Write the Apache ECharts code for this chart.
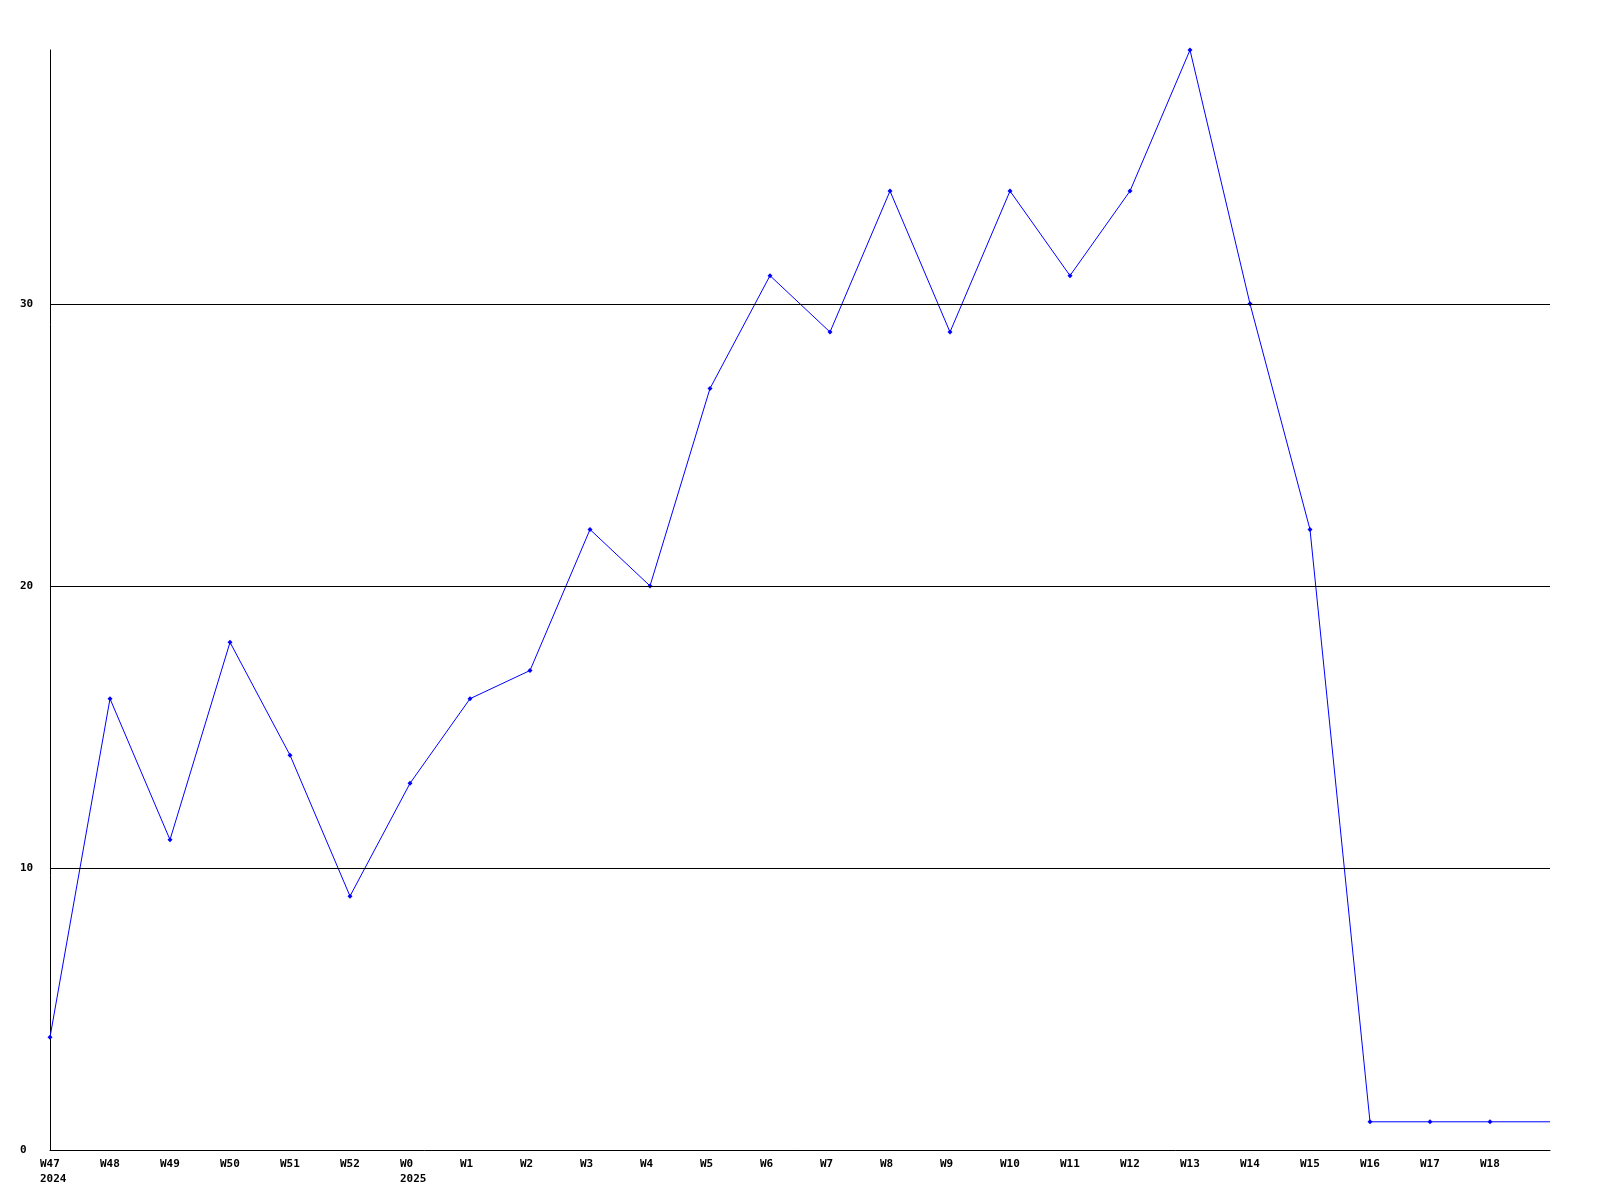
<!DOCTYPE html>
<html>
<head>
<meta charset="utf-8">
<script src="https://cdn.jsdelivr.net/npm/echarts@6/dist/echarts.min.js"></script>
<style>html,body{margin:0;padding:0;background:#fff}#c{width:1600px;height:1200px}</style>
</head>
<body>
<div id="c"></div>
<script>
const weeks = ['W47\n2024','W48','W49','W50','W51','W52','W0\n2025','W1','W2','W3','W4','W5','W6','W7','W8','W9','W10','W11','W12','W13','W14','W15','W16','W17','W18',''];
const counts = [4,16,11,18,14,9,13,16,17,22,20,27,31,29,34,29,34,31,34,39,30,22,1,1,1,1];
const yTicks = [0,10,20,30];
const yMax = 39;

const font = '"DejaVu Sans Mono", monospace';
const chart = echarts.init(document.getElementById('c'));
chart.setOption({
  backgroundColor: '#ffffff',
  animation: false,
  grid: {left: 50, right: 50, top: 50, bottom: 50},
  xAxis: {
    type: 'category',
    data: weeks,
    boundaryGap: false,
    axisLine: {lineStyle: {color: '#000', width: 1}},
    axisTick: {show: false},
    splitLine: {show: false},
    axisLabel: {
      interval: 0, color: '#000', fontFamily: font, fontWeight: 'bold', fontSize: 11,
      align: 'left', padding: [0,0,0,-10], margin: 7, lineHeight: 15
    }
  },
  yAxis: {
    type: 'value', min: 0, max: yMax, interval: 10,
    axisLine: {show: true, lineStyle: {color: '#000', width: 1}},
    axisTick: {show: false},
    splitLine: {show: false},
    axisLabel: {
      color: '#000', fontFamily: font, fontWeight: 'bold', fontSize: 11,
      align: 'left', margin: 30,
      formatter: v => yTicks.includes(v) ? String(v) : ''
    }
  },
  series: [{
    type: 'line',
    data: counts.map((v, i) => i === counts.length - 1 ? {value: v, symbol: 'none'} : v),
    symbol: 'diamond', symbolSize: 5, showAllSymbol: true,
    lineStyle: {color: '#0000ff', width: 1},
    itemStyle: {color: '#0000ff'},
    clip: false,
    markLine: {
      silent: true, symbol: 'none', label: {show: false},
      lineStyle: {color: '#000', width: 1, type: 'solid'},
      data: yTicks.filter(t => t > 0).map(t => ({yAxis: t}))
    },
    z: 3
  }]
});
</script>
</body>
</html>
